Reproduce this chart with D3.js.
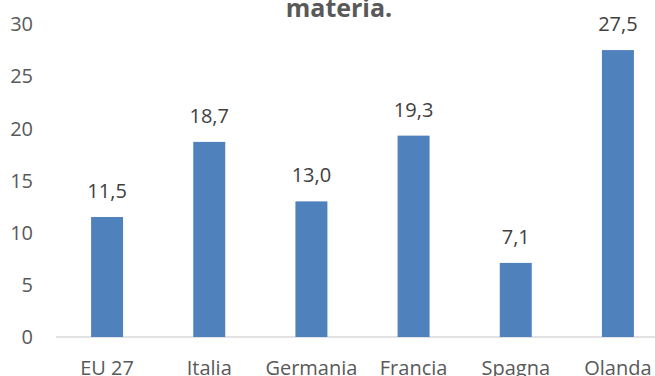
<!DOCTYPE html>
<html><head><meta charset="utf-8">
<script src="https://cdn.jsdelivr.net/npm/d3@7"></script>
<style>body{margin:0;background:#fff}svg{display:block}</style>
</head><body>
<svg id="c" width="655" height="376"></svg>
<script>
const categories = ["EU 27","Italia","Germania","Francia","Spagna","Olanda"];
const values = [11.5,18.7,13.0,19.3,7.1,27.5];
const yTicks = [0,5,10,15,20,25,30];
const title = "materia.";

const svg = d3.select("#c");
const font = "'Open Sans', sans-serif";
const x = d3.scaleBand().domain(categories).range([56, 669]).paddingInner(0.687).paddingOuter(0.3435);
const y = d3.scaleLinear().domain([0,30]).range([337, 24]);

svg.append("text").attr("x",339).attr("y",17).attr("text-anchor","middle")
  .attr("font-family",font).attr("font-weight","bold").attr("font-size",25).attr("fill","#595959").text(title);

svg.append("line").attr("x1",56).attr("x2",655).attr("y1",y(0)).attr("y2",y(0)).attr("stroke","#d9d9d9").attr("stroke-width",1.5);

svg.selectAll(".yt").data(yTicks).enter().append("text")
  .attr("x",33).attr("y",d=>y(d)).attr("dy","0.36em").attr("text-anchor","end")
  .attr("font-family",font).attr("font-size",20).attr("fill","#595959").text(d=>d);

svg.selectAll(".bar").data(values).enter().append("rect")
  .attr("x",(d,i)=>x(categories[i])).attr("width",x.bandwidth())
  .attr("y",d=>y(d)).attr("height",d=>y(0)-y(d)).attr("fill","#4F81BD");

svg.selectAll(".vl").data(values).enter().append("text")
  .attr("x",(d,i)=>x(categories[i])+x.bandwidth()/2).attr("y",d=>y(d)-19)
  .attr("text-anchor","middle").attr("font-family",font).attr("font-size",20).attr("fill","#404040")
  .text(d=>d3.format(".1f")(d).replace(".",","));

svg.selectAll(".xl").data(categories).enter().append("text")
  .attr("x",d=>x(d)+x.bandwidth()/2).attr("y",375).attr("text-anchor","middle")
  .attr("font-family",font).attr("font-size",20).attr("fill","#595959").text(d=>d);
</script>
</body></html>
